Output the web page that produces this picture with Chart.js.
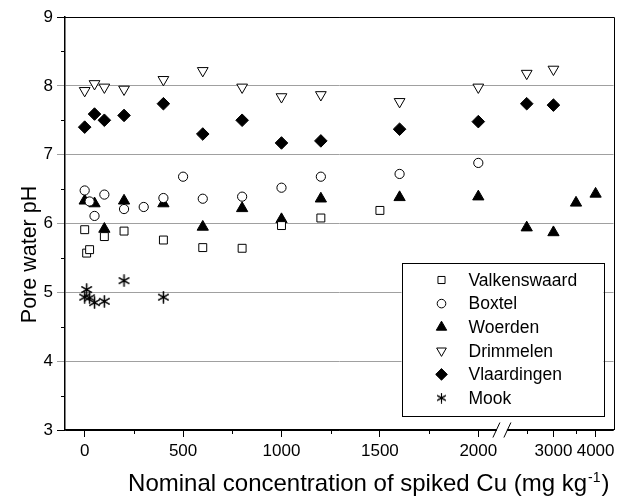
<!DOCTYPE html>
<html><head><meta charset="utf-8">
<script src="https://cdn.jsdelivr.net/npm/chart.js@4.4.0/dist/chart.umd.min.js"></script>
<style>html,body{margin:0;padding:0;background:#fff}</style>
</head><body>
<canvas id="c" width="621" height="498"></canvas>
<script>
// ---- data ----
const seriesNames = ['Valkenswaard','Boxtel','Woerden','Drimmelen','Vlaardingen','Mook'];
const valkX = [0,10,25,100,200,400,600,800,1000,1200,1500];
const valkY = [5.91,5.57,5.62,5.81,5.89,5.76,5.65,5.64,5.97,6.08,6.19];
const boxX  = [0,25,50,100,200,300,400,500,600,800,1000,1200,1600,2000];
const boxY  = [6.48,6.32,6.11,6.42,6.21,6.24,6.37,6.68,6.36,6.39,6.52,6.68,6.72,6.88];
const woeX  = [0,50,100,200,400,600,800,1000,1200,1600,2000,2500,3000,3500,4000];
const woeY  = [6.33,6.29,5.92,6.33,6.29,5.95,6.22,6.06,6.36,6.38,6.39,5.94,5.87,6.30,6.43];
const driX  = [0,50,100,200,400,600,800,1000,1200,1600,2000,2500,3000];
const driY  = [7.93,8.03,7.98,7.95,8.09,8.22,7.98,7.84,7.87,7.77,7.98,8.18,8.24];
const vlaX  = [0,50,100,200,400,600,800,1000,1200,1600,2000,2500,3000];
const vlaY  = [7.40,7.59,7.50,7.57,7.74,7.30,7.50,7.17,7.20,7.37,7.48,7.74,7.72];
const mooX  = [0,10,25,50,100,200,400];
const mooY  = [4.93,5.04,4.92,4.85,4.87,5.17,4.93];

const xMajorLeft  = [0,500,1000,1500,2000];
const xMinorLeft  = [250,750,1250,1750];
const xMajorRight = [3000,4000];
const xMinorRight = [2500,3500];
const yMinor = [3.5,4.5,5.5,6.5,7.5,8.5];
const xTitle = 'Nominal concentration of spiked Cu (mg kg';
const xTitleSup = '-1';
const yTitle = 'Pore water pH';
const BREAK = 2125;

// ---- styles ----
const FONT = "'Liberation Sans', Arial, sans-serif";
function makeAsterisk(size, lw){
  const c=document.createElement('canvas'); c.width=size; c.height=size;
  const g=c.getContext('2d'); g.strokeStyle='#000'; g.lineWidth=lw; g.lineCap='butt';
  const r=size/2-0.5, cx=size/2, cy=size/2;
  g.beginPath();
  for (const a of [90,30,-30]) { const t=a*Math.PI/180;
    g.moveTo(cx-r*Math.cos(t), cy-r*Math.sin(t)); g.lineTo(cx+r*Math.cos(t), cy+r*Math.sin(t)); }
  g.stroke(); g.stroke(); return c;
}
const styles = [
  {pointStyle:'rect', radius:5.6, bg:'#fff', rotation:0},
  {pointStyle:'circle', radius:4.6, bg:'#fff', rotation:0},
  {pointStyle:'triangle', radius:6.5, bg:'#000', rotation:0},
  {pointStyle:'triangle', radius:6.2, bg:'#fff', rotation:180},
  {pointStyle:'rectRot', radius:6.3, bg:'#000', rotation:0},
  {pointStyle:makeAsterisk(13, 1.3), radius:6, bg:'#000', rotation:0}
];
const legendStyles = [
  {pointStyle:'rect', radius:5.0, bg:'#fff', rotation:0},
  {pointStyle:'circle', radius:4.3, bg:'#fff', rotation:0},
  {pointStyle:'triangle', radius:6.0, bg:'#000', rotation:0},
  {pointStyle:'triangle', radius:5.6, bg:'#fff', rotation:180},
  {pointStyle:'rectRot', radius:5.8, bg:'#000', rotation:0},
  {pointStyle:makeAsterisk(11, 1.1), radius:5, bg:'#000', rotation:0}
];

const xs = [valkX, boxX, woeX, driX, vlaX, mooX];
const ys = [valkY, boxY, woeY, driY, vlaY, mooY];
const datasets = [];
seriesNames.forEach((name,i)=>{
  const pts = xs[i].map((x,k)=>({x, y: ys[i][k]}));
  const s = styles[i];
  const base = {label:name, showLine:false, pointStyle:s.pointStyle, pointRadius:s.radius,
    pointHoverRadius:s.radius, pointRotation:s.rotation, pointBackgroundColor:s.bg,
    pointBorderColor:'#000', pointBorderWidth:1, backgroundColor:s.bg, borderColor:'#000'};
  datasets.push(Object.assign({}, base, {data: pts.filter(p=>p.x<=BREAK), xAxisID:'x'}));
  datasets.push(Object.assign({}, base, {data: pts.filter(p=>p.x>BREAK), xAxisID:'x2'}));
});

const framePlugin = {
  id:'frame',
  afterDraw(chart){
    const ctx=chart.ctx, a=chart.chartArea, sx=chart.scales.x, sx2=chart.scales.x2, sy=chart.scales.y;
    ctx.save();
    // top / right border
    ctx.strokeStyle='#000'; ctx.lineWidth=1;
    ctx.beginPath(); ctx.moveTo(a.left, Math.round(a.top)+0.5); ctx.lineTo(Math.round(a.right)+0.5, Math.round(a.top)+0.5);
    ctx.lineTo(Math.round(a.right)+0.5, a.bottom); ctx.stroke();
    // minor ticks
    ctx.beginPath();
    xMinorLeft.forEach(v=>{const p=Math.round(sx.getPixelForValue(v))+0.5; ctx.moveTo(p,a.bottom); ctx.lineTo(p,a.bottom+4);});
    xMinorRight.forEach(v=>{const p=Math.round(sx2.getPixelForValue(v))+0.5; ctx.moveTo(p,a.bottom); ctx.lineTo(p,a.bottom+4);});
    yMinor.forEach(v=>{const p=Math.round(sy.getPixelForValue(v))+0.5; ctx.moveTo(a.left-4,p); ctx.lineTo(a.left,p);});
    ctx.stroke();
    // axis break
    const B = sx.right, b = a.bottom;
    ctx.fillStyle='#fff'; ctx.fillRect(B-6, b-2, 10, 4);
    ctx.beginPath();
    ctx.moveTo(B-10, b+7.5); ctx.lineTo(B-3, b-7.5);
    ctx.moveTo(B+1, b+7.5); ctx.lineTo(B+8, b-7.5);
    ctx.stroke();
    // axis titles
    ctx.fillStyle='#000';
    const mainFont = '24px '+FONT, supFont = '14px '+FONT;
    ctx.font = mainFont; const w1 = ctx.measureText(xTitle).width;
    ctx.font = supFont; const w2 = ctx.measureText(xTitleSup).width;
    ctx.font = mainFont; const w3 = ctx.measureText(')').width;
    const cx = a.left + (a.right-a.left)*0.552, by = a.bottom + 61;
    let x0 = cx - (w1+w2+w3)/2;
    ctx.textBaseline='alphabetic'; ctx.textAlign='left';
    ctx.fillText(xTitle, x0, by);
    ctx.font = supFont; ctx.fillText(xTitleSup, x0+w1+1, by-9);
    ctx.font = mainFont; ctx.fillText(')', x0+w1+w2+2, by);
    ctx.font = '21.5px '+FONT;
    ctx.translate(a.left-29, a.top + (a.bottom-a.top)*0.575);
    ctx.rotate(-Math.PI/2);
    ctx.textAlign='center';
    ctx.fillText(yTitle, 0, 0);
    ctx.restore();
    // legend
    const L = {w:202, h:153};
    const lx = a.right - 10 - L.w, ly = a.bottom - 14 - L.h;
    ctx.save();
    ctx.fillStyle='#fff'; ctx.fillRect(lx, ly, L.w, L.h);
    ctx.strokeStyle='#000'; ctx.lineWidth=1;
    ctx.strokeRect(Math.round(lx)+0.5, Math.round(ly)+0.5, L.w, L.h);
    ctx.font = '17.5px '+FONT; ctx.textBaseline='middle'; ctx.textAlign='left';
    seriesNames.forEach((name,i)=>{
      const yy = ly + 17 + i*23.6;
      const s = legendStyles[i];
      ctx.fillStyle = s.bg; ctx.strokeStyle='#000'; ctx.lineWidth=1;
      Chart.helpers.drawPoint(ctx, {pointStyle:s.pointStyle, rotation:s.rotation, radius:s.radius, borderWidth:1}, lx+40, yy);
      ctx.fillStyle='#000';
      ctx.fillText(name, lx+67, yy+1);
    });
    ctx.restore();
  }
};

const tickFont = {size:17, family:FONT};
new Chart(document.getElementById('c'), {
  type:'scatter',
  data:{datasets},
  options:{
    responsive:false, devicePixelRatio:1, animation:false,
    layout:{padding:{left:0, right:3, top:17, bottom:0}},
    plugins:{legend:{display:false}, tooltip:{enabled:false}},
    scales:{
      x:{type:'linear', position:'bottom', stack:'xs', stackWeight:441.5, min:-100, max:BREAK,
        afterBuildTicks:s=>{ s.ticks = xMajorLeft.map(v=>({value:v})); },
        ticks:{font:tickFont, color:'#000', padding:4, maxRotation:0, autoSkip:false, callback:v=>String(v)},
        grid:{drawOnChartArea:false, drawTicks:true, tickLength:7, color:'#000'},
        border:{color:'#000', width:1.5},
        afterFit:s=>{ s.height=68; s.paddingLeft=0; s.paddingRight=0; }
      },
      x2:{type:'logarithmic', position:'bottom', stack:'xs', stackWeight:111.5, min:BREAK, max:4520,
        afterBuildTicks:s=>{ s.ticks = xMajorRight.map(v=>({value:v})); },
        ticks:{font:tickFont, color:'#000', padding:4, maxRotation:0, autoSkip:false, callback:v=>String(v)},
        grid:{drawOnChartArea:false, drawTicks:true, tickLength:7, color:'#000'},
        border:{color:'#000', width:1.5},
        afterFit:s=>{ s.height=68; s.paddingLeft=0; s.paddingRight=0; }
      },
      y:{type:'linear', position:'left', min:3, max:9,
        ticks:{stepSize:1, font:tickFont, color:'#000', padding:4},
        grid:{color:c=>(c.tick && (c.tick.value===3||c.tick.value===9)) ? '#000' : '#a0a0a0', tickLength:8, lineWidth:1},
        border:{color:'#000', width:1.5},
        afterFit:s=>{ s.width=65; s.paddingTop=0; s.paddingBottom=0; }
      }
    }
  },
  plugins:[framePlugin]
});
</script>
</body></html>
